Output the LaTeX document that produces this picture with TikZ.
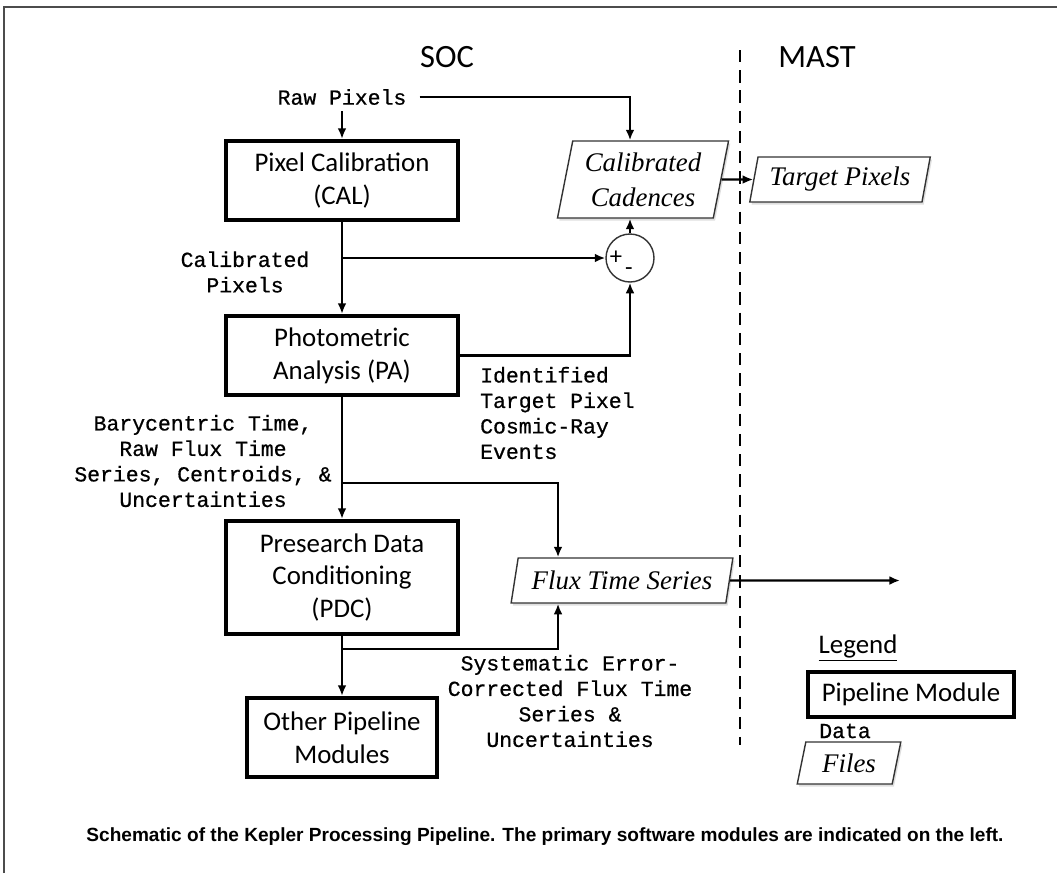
\documentclass[tikz,border=0pt]{standalone}
\usepackage{fontspec}
\setmainfont{Carlito}
\setmonofont{Liberation Mono}[FakeBold=0.7]
\newfontfamily\itfont{Liberation Serif}
\newfontfamily\capfont{Liberation Sans}
\usetikzlibrary{shapes.geometric,arrows.meta,shadows}

\begin{document}
\begin{tikzpicture}[
	x=0.02cm,
	y=-0.02cm,
	module/.style={
		rectangle,
		draw=black,
		line width=2.4pt,
		fill=white,
		align=center,
		font=\fontsize{15.3pt}{18.7pt}\selectfont,
		minimum height=1.58cm,
		minimum width=4.64cm,
		drop shadow={shadow xshift=1pt, shadow yshift=-1.2pt, opacity=0.2}
	},
	datafile/.style={
		trapezium,
		trapezium left angle=78,
		trapezium right angle=102,
		trapezium stretches=true,
		draw=black!80,
		line width=0.8pt,
		fill=white,
		align=center,
		font=\itfont\itshape\fontsize{15.3pt}{19.8pt}\selectfont,
		drop shadow={shadow xshift=1pt, shadow yshift=-1.5pt, opacity=0.25}
	},
	note/.style={
		align=center,
		font=\ttfamily\fontsize{12.2pt}{14.5pt}\selectfont
	},
	flow/.style={
		line width=1.4pt,
		-{Latex[length=6pt,width=5pt]}
	},
]

\useasboundingbox (0, 0) rectangle (1057, 873);

% frame and headings
\draw[black!70, line width=0.9pt] (4, 873) -- (4, 7) -- (1057, 7);
\node[font=\fontsize{18.5pt}{21pt}\selectfont] (head_soc) at (447, 57) {SOC};
\node[font=\fontsize{18.5pt}{21pt}\selectfont] (head_mast) at (817, 57) {MAST};
\draw[line width=1.2pt, dash pattern=on 7pt off 4.5pt] (740, 50) -- (740, 745);

\node[note] (lbl_raw) at (342, 97) {Raw Pixels};

\node[module] (mod_cal) at (342, 180.5) {Pixel Calibration\\(CAL)};
\node[module] (mod_pa) at (342, 355.5) {Photometric\\Analysis (PA)};
\node[module, minimum height=2.26cm] (mod_pdc) at (342, 577.5) {Presearch Data\\Conditioning\\(PDC)};
\node[module, minimum width=3.8cm] (mod_other) at (342, 737.5) {Other Pipeline\\Modules};

\node[datafile, minimum width=3.44cm, minimum height=1.54cm] (data_cad) at (643, 179.5) {Calibrated\\Cadences};
\node[datafile, minimum width=3.64cm, minimum height=0.9cm] (data_tgt) at (840, 179.5) {Target Pixels};
\node[datafile, minimum width=4.44cm, minimum height=0.9cm] (data_flux) at (622, 580.5) {Flux Time Series};

\node[circle, draw=black!80, line width=0.8pt, minimum size=0.96cm, inner sep=0pt] (sum) at (630, 258) {};
\node[font=\fontsize{14pt}{14pt}\selectfont, inner sep=0pt] (sum_plus) at (616, 258) {+};
\node[font=\fontsize{14pt}{14pt}\selectfont, inner sep=0pt] (sum_minus) at (629, 272) {-};

\node[note] (lbl_calpix) at (245, 272) {Calibrated\\Pixels};
\node[note, align=left, anchor=west] (lbl_crays) at (474, 413) {Identified\\Target Pixel\\Cosmic-Ray\\Events};
\node[note] (lbl_raw_flux) at (203, 461) {Barycentric Time,\\Raw Flux Time\\Series, Centroids, \&\\Uncertainties};
\node[note] (lbl_pdc_flux) at (570, 701) {Systematic Error-\\Corrected Flux Time\\Series \&\\Uncertainties};

\coordinate (split_pa) at (342, 483);
\coordinate (split_pdc) at (342, 649);
\coordinate (flux_out) at (900, 580.5);

\draw[flow] (lbl_raw) -- (mod_cal);
\draw[flow] ([xshift=4pt]lbl_raw.east) -| (sum |- data_cad.north);
\draw[flow] (data_cad) -- (data_tgt);
\draw[flow] (mod_cal) -- (mod_pa);
\draw[flow] (mod_cal.south |- sum) -- (sum);
\draw[flow] (mod_pa.east) -| (sum);
\draw[flow] (sum) -- (sum |- data_cad.south);
\draw[flow] (mod_pa) -- (mod_pdc);
\draw[flow] (split_pa) -| ([xshift=-1.28cm]data_flux.north);
\draw[flow] (mod_pdc) -- (mod_other);
\draw[flow] (split_pdc) -| ([xshift=-1.28cm]data_flux.south);
\draw[flow] (data_flux) -- (flux_out);

% legend
\node[font=\fontsize{15.3pt}{18.7pt}\selectfont] (leg_title) at (858, 648) {\underline{Legend}};
\node[module, minimum width=4.12cm, minimum height=0.9cm] (leg_module) at (911, 694.5) {Pipeline Module};
\node[note] (leg_data) at (845, 731) {Data};
\node[datafile, minimum width=2.08cm, minimum height=0.84cm] (leg_files) at (849, 763) {Files};

\node[font=\capfont\bfseries\fontsize{10.85pt}{13pt}\selectfont] (caption) at (545, 837) {Schematic of the Kepler Processing Pipeline. The primary software modules are indicated on the left.};

\end{tikzpicture}
\end{document}
